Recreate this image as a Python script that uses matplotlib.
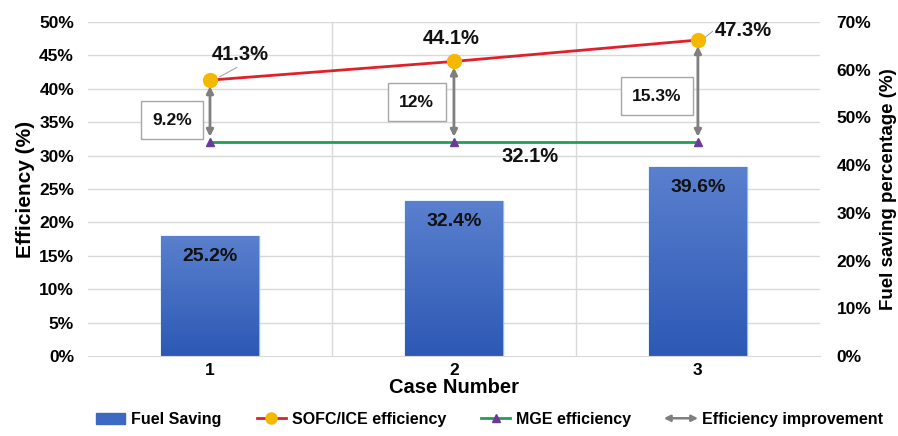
import matplotlib
matplotlib.use("Agg")
import matplotlib.pyplot as plt
import numpy as np
from matplotlib.lines import Line2D
from matplotlib.patches import Patch, FancyArrowPatch
from matplotlib.legend_handler import HandlerPatch
from matplotlib.colors import LinearSegmentedColormap

plt.rcParams['font.family'] = ['Liberation Sans', 'DejaVu Sans']
plt.rcParams['font.weight'] = 'bold'

cases = ["1", "2", "3"]
fuel_saving = [25.2, 32.4, 39.6]
sofc_eff = [41.3, 44.1, 47.3]
mge_eff = [32.1, 32.1, 32.1]
improvement = ["9.2%", "12%", "15.3%"]

fig = plt.figure(figsize=(8.98, 4.36), dpi=100)
ax = fig.add_axes([0.098, 0.1835, 0.815, 0.766])
ax2 = ax.twinx()
ax.set_zorder(ax2.get_zorder() + 1)
ax.patch.set_visible(False)

x = np.arange(len(cases))

bars = ax2.bar(x, fuel_saving, width=0.4, color="#3E69C2", edgecolor="#7FC7E8", linewidth=1.0, zorder=2)
grad = np.linspace(0, 1, 256).reshape(-1, 1)
cmap = LinearSegmentedColormap.from_list("g", ["#2D59B5", "#5A80CE"])
for b in bars:
    x0, y0 = b.get_x(), b.get_y()
    w, h = b.get_width(), b.get_height()
    im = ax2.imshow(grad, extent=[x0, x0 + w, y0, y0 + h], origin="lower", aspect="auto", cmap=cmap, zorder=2.5)
    im.set_clip_path(b)
for xi, v in zip(x, fuel_saving):
    ax2.text(xi, v - 4.3, f"{v}%", ha="center", va="center", fontsize=14, fontweight="bold", color="#111111", zorder=4)

ax2.set_ylim(0, 70)
ax2.set_yticks(np.arange(0, 71, 10))
ax2.set_yticklabels([f"{t}%" for t in range(0, 71, 10)], fontweight="bold")
ax2.set_ylabel("Fuel saving percentage (%)", fontsize=13.5, fontweight="bold", labelpad=6)

ax.set_xlim(-0.5, 2.5)
ax.set_ylim(0, 50)
ax.set_yticks(np.arange(0, 51, 5))
ax.set_yticklabels([f"{t}%" for t in range(0, 51, 5)], fontweight="bold")
ax.set_ylabel("Efficiency (%)", fontsize=15, fontweight="bold", labelpad=3)
ax.set_xticks(x)
ax.set_xticklabels(cases, fontweight="bold")
ax.set_xlabel("Case Number", fontsize=14.5, fontweight="bold", labelpad=0)

ax2.set_xlim(-0.5, 2.5)
for t in np.arange(5, 51, 5):
    ax2.axhline(t * 70 / 50, color="#D9D9D9", lw=1, zorder=0)
for t in [0.5, 1.5]:
    ax2.axvline(t, color="#D9D9D9", lw=1, zorder=0)

for a in (ax, ax2):
    for s in a.spines.values():
        s.set_visible(False)
    a.tick_params(length=0, labelsize=12.5)
ax.spines['bottom'].set_visible(True)
ax.spines['bottom'].set_color("#D9D9D9")
ax.tick_params(axis='y', pad=10)
ax2.tick_params(axis='y', pad=12)
ax.tick_params(axis='x', pad=5)

ax.plot(x, sofc_eff, color="#E0202A", lw=2, marker="o", markersize=10, markerfacecolor="#F5B800",
        markeredgecolor="#F5B800", zorder=5)
ax.plot(x, mge_eff, color="#1FA055", lw=2, marker="^", markersize=6, markerfacecolor="#6A3A9A",
        markeredgecolor="#6A3A9A", zorder=5)

for xi, a_, b_ in zip(x, mge_eff, sofc_eff):
    ax.annotate("", xy=(xi, b_ - 0.5), xytext=(xi, a_ + 0.3),
                arrowprops=dict(arrowstyle="<|-|>", color="#7F7F7F", lw=2, mutation_scale=10), zorder=4)

box_pos = [(-0.156, 35.3), (0.848, 38.0), (1.832, 38.9)]
for (bx, by), t in zip(box_pos, improvement):
    ax.text(bx, by, t, ha="center", va="center", fontsize=12.5, fontweight="bold", color="#111111",
            bbox=dict(boxstyle="square,pad=0.65", fc="white", ec="#A6A6A6", lw=1), zorder=6)

ax.text(0.123, 45.1, f"{sofc_eff[0]}%", ha="center", va="center", fontsize=14.5, fontweight="bold", color="#111111", zorder=6)
ax.text(0.99, 47.6, f"{sofc_eff[1]}%", ha="center", va="center", fontsize=14.5, fontweight="bold", color="#111111", zorder=6)
ax.text(2.07, 48.8, f"{sofc_eff[2]}%", ha="left", va="center", fontsize=14.5, fontweight="bold", color="#111111", zorder=6)
ax.plot([2.03, 2.06], [47.7, 48.6], color="#A6A6A6", lw=0.8, zorder=6)
ax.plot([0.04, 0.11], [41.8, 43.2], color="#A6A6A6", lw=0.8, zorder=6)
ax.text(1.31, 29.8, f"{mge_eff[1]}%", ha="center", va="center", fontsize=14.5, fontweight="bold", color="#111111", zorder=6)


class HandlerArrow(HandlerPatch):
    def create_artists(self, legend, orig_handle, xdescent, ydescent, width, height, fontsize, trans):
        p = FancyArrowPatch((0 - xdescent - 4, height / 2 - ydescent), (width - xdescent + 4, height / 2 - ydescent),
                            arrowstyle="<|-|>", mutation_scale=9, color="#7F7F7F", lw=1.8)
        p.set_transform(trans)
        return [p]


handles = [
    Patch(facecolor="#3E69C2", edgecolor="#3E69C2"),
    Line2D([], [], color="#E0202A", lw=2, marker="o", markersize=8, markerfacecolor="#F5B800", markeredgecolor="#F5B800"),
    Line2D([], [], color="#1FA055", lw=2, marker="^", markersize=6, markerfacecolor="#6A3A9A", markeredgecolor="#6A3A9A"),
    FancyArrowPatch((0, 0), (1, 0)),
]
labels = ["Fuel Saving", "SOFC/ICE efficiency", "MGE efficiency", "Efficiency improvement"]
fig.legend(handles, labels, loc="lower center", bbox_to_anchor=(0.545, -0.012), ncol=4, frameon=False,
           fontsize=11.5, handlelength=1.8, handletextpad=0.4, columnspacing=2.2,
           handler_map={FancyArrowPatch: HandlerArrow()})

fig.savefig("out.png", dpi=100)
